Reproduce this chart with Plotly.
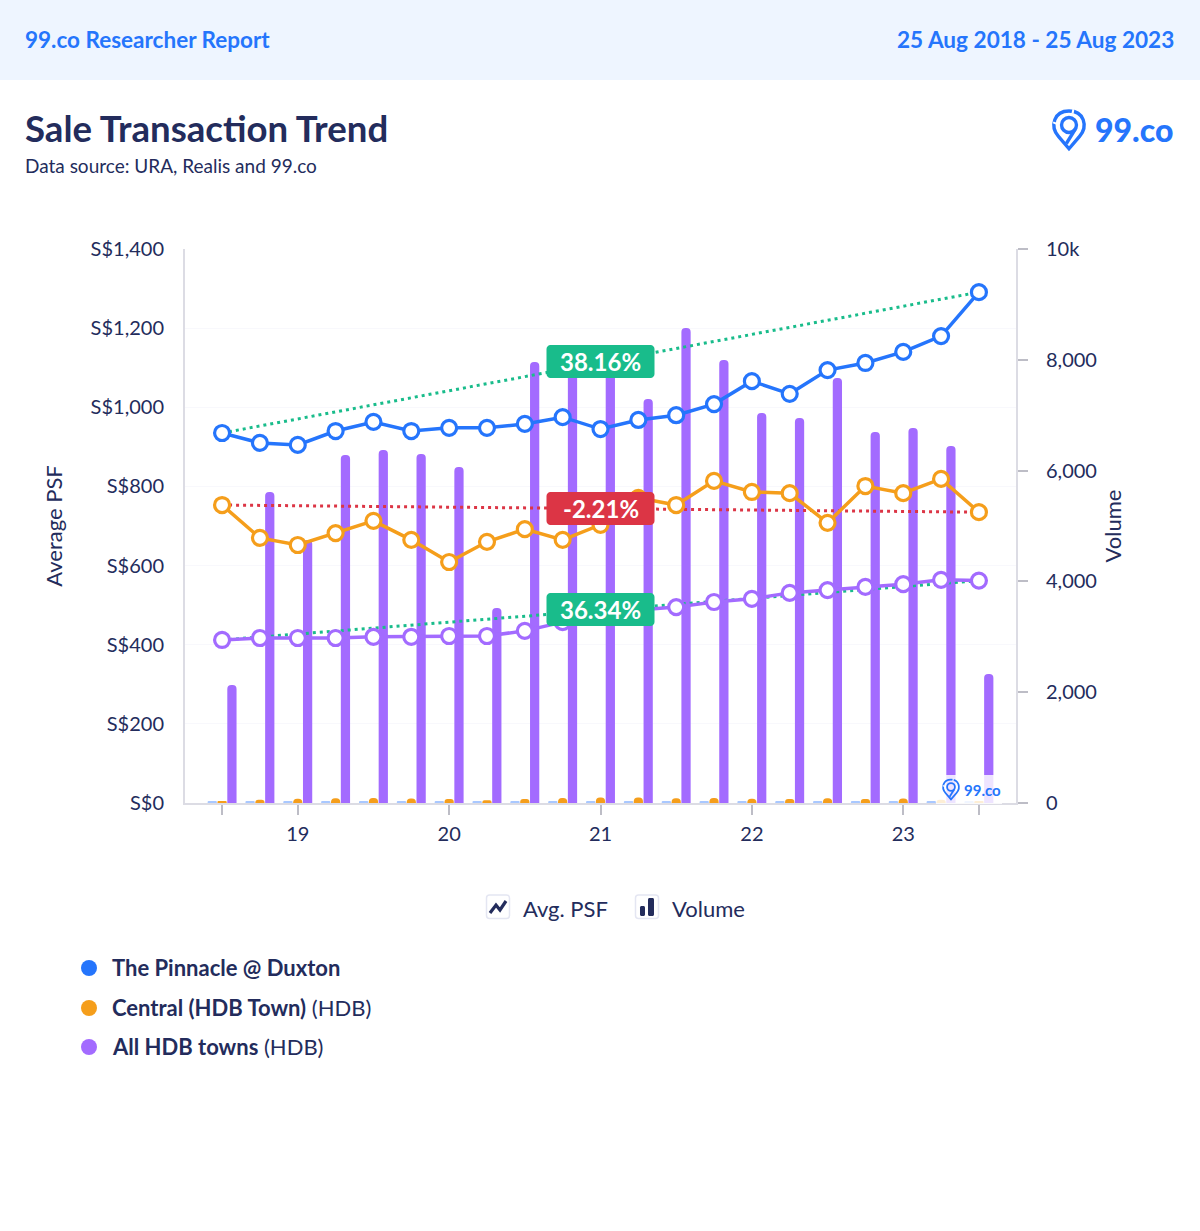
import plotly.graph_objects as go

W, H = 1200, 1231
NAVY = "#232C5C"
BLUE = "#2575FC"
ORANGE = "#F59E1B"
PURPLE = "#A36BFF"
GREEN = "#19BC8B"
RED = "#DC3545"
FONT = "Lato"

quarters = ["18Q3","18Q4","19Q1","19Q2","19Q3","19Q4","20Q1","20Q2","20Q3","20Q4","21Q1",
            "21Q2","21Q3","21Q4","22Q1","22Q2","22Q3","22Q4","23Q1","23Q2","23Q3"]
tick_quarters = ["18Q3","19Q1","20Q1","21Q1","22Q1","23Q1","23Q3"]
tick_labels = ["","19","20","21","22","23",""]

psf_pinnacle = [935,910,905,940,963,940,948,948,958,975,945,968,980,1008,1066,1034,1094,1112,1140,1180,1291]
psf_central = [753,670,652,682,713,665,609,660,692,665,703,771,753,814,786,783,708,801,783,819,735]
psf_all = [412,417,417,417,420,420,422,422,435,457,475,488,495,508,516,531,538,546,553,564,562]

vol_pinnacle = [22,25,28,30,28,25,25,22,25,30,28,32,34,30,28,25,30,25,25,22,20]
vol_central = [25,60,75,85,90,80,70,50,70,90,100,100,85,90,75,70,85,70,80,60,20]
vol_all = [2130,5614,4747,6282,6372,6300,6065,3520,7960,7906,7816,7292,8574,7996,7040,6950,7671,6697,6770,6444,2329]

trend_pinnacle = [935,1291]
trend_central = [753,735]
trend_all = [412,562]
trend_labels = ["38.16%","-2.21%","36.34%"]
trend_label_psf = [1116,744,489]

y_left_ticks = [0,200,400,600,800,1000,1200,1400]
y_left_labels = ["S$0","S$200","S$400","S$600","S$800","S$1,000","S$1,200","S$1,400"]
y_right_ticks = [0,2000,4000,6000,8000,10000]
y_right_labels = ["0","2,000","4,000","6,000","8,000","10k"]

def px(x): return x / W
def py(y): return 1 - y / H

fig = go.Figure()
for name, vals, col in [("The Pinnacle @ Duxton", vol_pinnacle, "#A9C8FF"),
                        ("Central (HDB Town)", vol_central, ORANGE),
                        ("All HDB towns", vol_all, PURPLE)]:
    fig.add_bar(x=quarters, y=vals, name=name, marker=dict(color=col, line_width=0), yaxis="y", showlegend=False)

for vals, col in [(trend_pinnacle, GREEN), (trend_central, RED), (trend_all, GREEN)]:
    fig.add_scatter(x=[quarters[0], quarters[-1]], y=vals, mode="lines", yaxis="y2", showlegend=False,
                    line=dict(color=col, width=3, dash="3px,4px"))
for name, vals, col in [("The Pinnacle @ Duxton", psf_pinnacle, BLUE),
                        ("Central (HDB Town)", psf_central, ORANGE),
                        ("All HDB towns", psf_all, PURPLE)]:
    fig.add_scatter(x=quarters, y=vals, name=name, mode="lines+markers", yaxis="y2", showlegend=False,
                    line=dict(color=col, width=3.5),
                    marker=dict(size=15, color="white", line=dict(color=col, width=3.2)))

shapes, ann = [], []

def text(x, y, s, size, color=NAVY, anchor="left", weight=None, **kw):
    f = dict(family=FONT, size=size, color=color)
    if weight:
        f["weight"] = weight
    ann.append(dict(x=px(x), y=py(y), xref="paper", yref="paper", text=s, showarrow=False, xanchor=anchor,
                    yanchor="middle", borderpad=0, font=f, **kw))

def path(cmds, **kw):
    out = []
    for c in cmds:
        if isinstance(c, str):
            out.append(c)
        else:
            out.append(f"{px(c[0]):.5f},{py(c[1]):.5f}")
    shapes.append(dict(type="path", xref="paper", yref="paper", path=" ".join(out), **kw))

def rrect(x0, y0, x1, y1, r, **kw):
    k = r * 0.45
    path(["M",(x0+r,y0),"L",(x1-r,y0),"C",(x1-k,y0),(x1,y0+k),(x1,y0+r),"L",(x1,y1-r),
          "C",(x1,y1-k),(x1-k,y1),(x1-r,y1),"L",(x0+r,y1),"C",(x0+k,y1),(x0,y1-k),(x0,y1-r),
          "L",(x0,y0+r),"C",(x0,y0+k),(x0+k,y0),(x0+r,y0),"Z"], **kw)

def pin(cx, cy, s, lw):
    P = lambda a, b: (cx + a * s, cy + b * s)
    line = dict(color=BLUE, width=lw)
    path(["M",P(0,27),"L",P(-12,13),"C",P(-22,1),P(-17,-16),P(0,-16),"C",P(17,-16),P(22,1),P(12,13),"Z"],
         line=line, layer="above")
    c = 0.55 * 8.5
    r = 8.5
    path(["M",P(r,0),"C",P(r,c),P(c,r),P(0,r),"C",P(-c,r),P(-r,c),P(-r,0),"C",P(-r,-c),P(-c,-r),P(0,-r),
          "C",P(c,-r),P(r,-c),P(r,0)], line=line, layer="above")
    path(["M",P(7,5),"L",P(-3,21)], line=line, layer="above")
    white = dict(color="white", width=lw * 0.6)
    path(["M",P(5,-18),"L",P(4,-13)], line=white, layer="above")
    path(["M",P(-18,-3),"L",P(-13,-1)], line=white, layer="above")

# header band
shapes.append(dict(type="rect", xref="paper", yref="paper", x0=0, x1=1, y0=py(80), y1=1,
                   fillcolor="#EEF5FF", line_width=0, layer="below"))
text(24, 40, "<b>99.co Researcher Report</b>", 22.5, BLUE)
text(1175, 40, "<b>25 Aug 2018 - 25 Aug 2023</b>", 22.6, BLUE, anchor="right")
text(24, 128, "<b>Sale Transaction Trend</b>", 36.6, NAVY)
text(24, 166, "Data source: URA, Realis and 99.co", 19, NAVY)

# header logo
pin(1069, 125, 0.88, 3.4)
text(1094, 130, "99.co", 32, BLUE, weight=900)

# percentage labels on the trends
for q, v, s, col in zip(["21Q1"]*3, trend_label_psf, trend_labels, [GREEN, RED, GREEN]):
    w, h, r = 54, 16.5, 4
    k = r * 0.45
    d = (f"M{-w+r},{h} L{w-r},{h} C{w-k},{h} {w},{h-k} {w},{h-r} L{w},{-h+r} C{w},{-h+k} {w-k},{-h} {w-r},{-h} "
         f"L{-w+r},{-h} C{-w+k},{-h} {-w},{-h+k} {-w},{-h+r} L{-w},{h-r} C{-w},{h-k} {-w+k},{h} {-w+r},{h} Z")
    shapes.append(dict(type="path", xref="x", yref="y2", xsizemode="pixel", ysizemode="pixel",
                       xanchor=q, yanchor=v, path=d, fillcolor=col, line_width=0, layer="above"))
    ann.append(dict(x=q, y=v, xref="x", yref="y2", text=f"<b>{s}</b>", showarrow=False,
                    font=dict(family=FONT, size=24, color="white")))

# watermark
shapes.append(dict(type="rect", xref="paper", yref="paper", x0=px(936), x1=px(1002), y0=py(804), y1=py(775),
                   fillcolor="rgba(255,255,255,0.82)", line_width=0, layer="above"))
pin(951, 787, 0.46, 1.8)
text(963, 790, "<b>99.co</b>", 15, BLUE)

# legend icons
rrect(486.5, 895, 509.5, 918.5, 3, line=dict(color="#E4E6F2", width=1.5), fillcolor="white")
path(["M",(490,913),"L",(496,905),"L",(500,910),"L",(506,901)], line=dict(color=NAVY, width=3.2))
text(522, 908, "Avg. PSF", 22, NAVY)
rrect(635.5, 895, 658.5, 918.5, 3, line=dict(color="#E4E6F2", width=1.5), fillcolor="white")
rrect(640, 906, 645, 916, 1.5, fillcolor=NAVY, line_width=0)
rrect(648, 898, 654, 916, 1.5, fillcolor=NAVY, line_width=0)
text(671, 908, "Volume", 22, NAVY)

# series key
for y, col, s in [(968, BLUE, "<b>The Pinnacle @ Duxton</b>"),
                  (1008, ORANGE, "<b>Central (HDB Town)</b> (HDB)"),
                  (1047, PURPLE, "<b>All HDB towns</b> (HDB)")]:
    shapes.append(dict(type="circle", xref="paper", yref="paper", x0=px(81), x1=px(97), y0=py(y+8), y1=py(y-8),
                       fillcolor=col, line_width=0))
    text(111, y - 1, s, 22, NAVY)

tickfont = dict(family=FONT, size=20, color=NAVY)
fig.update_layout(
    width=W, height=H, margin=dict(l=0, r=0, t=0, b=0, autoexpand=False),
    paper_bgcolor="white", plot_bgcolor="white",
    font=dict(family=FONT, color=NAVY), barmode="group", bargap=0.22, bargroupgap=0.06, barcornerradius=5,
    shapes=shapes, annotations=ann, showlegend=False,
    xaxis=dict(domain=[px(185), px(1016)], type="category", categoryorder="array", categoryarray=quarters,
               range=[-0.98, 20.98], tickmode="array", tickvals=tick_quarters, ticktext=tick_labels,
               ticks="outside", ticklen=10, tickwidth=1.5, tickcolor="#BDBDC6", tickfont=tickfont,
               showgrid=False, showline=True, linecolor="#DCDCE4", linewidth=2, zeroline=False, ticklabelstandoff=2),
    yaxis=dict(domain=[py(803), py(249)], range=[0, 10000], side="right", tickmode="array",
               tickvals=y_right_ticks, ticktext=y_right_labels, ticks="outside", ticklen=10, tickwidth=1.5,
               tickcolor="#BDBDC6", tickfont=tickfont, showgrid=False, zeroline=False, showline=True,
               linecolor="#DCDCE4", linewidth=2, ticklabelstandoff=14,
               title=dict(text="Volume", font=dict(family=FONT, size=22, color=NAVY), standoff=10)),
    yaxis2=dict(domain=[py(803), py(249)], range=[0, 1400], side="left", overlaying="y", anchor="x", tickmode="array",
                tickvals=y_left_ticks, ticktext=y_left_labels, ticks="", tickfont=tickfont, showgrid=True,
                gridcolor="#F8F8FC", zeroline=False, showline=True, linecolor="#DCDCE4", linewidth=2,
                ticklabelstandoff=15,
                title=dict(text="Average PSF", font=dict(family=FONT, size=22, color=NAVY), standoff=22)),
)
fig.write_html("out.html", post_script="document.body.style.margin='0';", config={"displayModeBar": False})
